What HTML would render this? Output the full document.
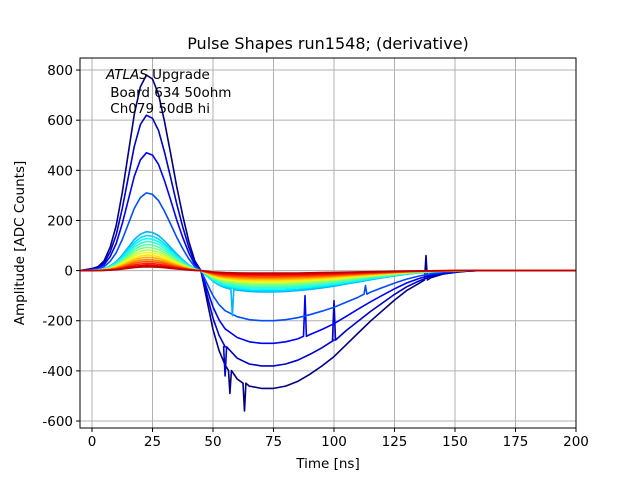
<!DOCTYPE html>
<html><head><meta charset="utf-8"><style>
body{margin:0;background:#fff;}
svg text{font-family:"DejaVu Sans","Liberation Sans",sans-serif;}
</style></head><body>
<svg width="640" height="480" viewBox="0 0 640 480">
<rect width="640" height="480" fill="#fff"/>
<g id="grid"></g>
<g id="series"></g>
<rect x="80" y="58" width="496" height="370" fill="none" stroke="#000" stroke-width="1"/>
<g id="ticks"></g>
<text x="328" y="49" text-anchor="middle" font-size="16">Pulse Shapes run1548; (derivative)</text>
<text x="328" y="468" text-anchor="middle" font-size="13.5">Time [ns]</text>
<text x="24" y="243" text-anchor="middle" font-size="13.5" transform="rotate(-90 24 243)">Amplitude [ADC Counts]</text>
<g font-size="13.5">
<text x="106" y="79"><tspan font-style="italic">ATLAS</tspan> Upgrade</text>
<text x="106" y="97">&#160;Board 634 50ohm</text>
<text x="106" y="113">&#160;Ch079 50dB hi</text>
</g>
</svg>
<script>
const times=[-5,0,2.5,5,7.5,10,12.5,15,17.5,20,22.5,25,27.5,30,32.5,35,37.5,40,42.5,45,47.5,50,52.5,55,60,65,70,75,80,85,90,95,100,105,110,115,120,125,130,135,140,145,150,155,160,170,180,190,200];
const posShape=[0,0.01,0.02,0.05,0.12,0.23,0.4,0.6,0.8,0.94,1.0,0.98,0.9,0.76,0.6,0.43,0.28,0.15,0.05,0,0,0,0,0,0,0,0,0,0,0,0,0,0,0,0,0,0,0,0,0,0,0,0,0,0,0,0,0,0];
const negShape=[0,0,0,0,0,0,0,0,0,0,0,0,0,0,0,0,0,0,0,0,-0.25,-0.5,-0.68,-0.8,-0.92,-0.98,-1,-1,-0.98,-0.94,-0.88,-0.81,-0.73,-0.63,-0.53,-0.43,-0.34,-0.25,-0.17,-0.11,-0.06,-0.03,-0.015,-0.005,0,0,0,0,0];
const peaks=[780,620,470,310,155,140,128,116,104,93,82,72,62,53,44,36,28,21,15];
const troughs=[-470,-380,-290,-200,-85,-80,-74,-68,-62,-56,-50,-45,-40,-35,-30,-25,-20,-15,-10];
const colorPos=[0,0.07,0.12,0.2,0.3,0.34,0.38,0.42,0.46,0.5,0.55,0.6,0.65,0.7,0.75,0.8,0.85,0.9,0.94];
const spikeSeries=[0,0,1,2,1,3,0,4];
const spikeTimes=[63,57,55,88,100,113,138,58];
const spikeValues=[-560,-490,-420,-100,-120,-60,60,-180];
const xTicks=[0,25,50,75,100,125,150,175,200];
const yTicks=[-600,-400,-200,0,200,400,600,800];
const NS='http://www.w3.org/2000/svg';
const X=v=>92+v*2.42, Y=v=>270.6-v*0.2507;
function jet(v){const c=x=>Math.round(255*Math.max(0,Math.min(1,x)));
 return `rgb(${c(1.5-Math.abs(4*v-3))},${c(1.5-Math.abs(4*v-2))},${c(1.5-Math.abs(4*v-1))})`;}
const grid=document.getElementById('grid'),ticks=document.getElementById('ticks'),ser=document.getElementById('series');
function mk(tag,attrs,parent){const e=document.createElementNS(NS,tag);for(const k in attrs)e.setAttribute(k,attrs[k]);parent.appendChild(e);return e;}
xTicks.forEach(t=>{
 const g=mk('line',{x1:X(t),x2:X(t),y1:58,y2:428,stroke:'#b0b0b0','stroke-width':1},grid);
 
 
 mk('line',{x1:X(t),x2:X(t),y1:428,y2:432,stroke:'#000'},ticks);
 const tx=mk('text',{x:X(t),y:446,'text-anchor':'middle','font-size':13.5},ticks);tx.textContent=t;
 
 
});
yTicks.forEach(t=>{
 const g=mk('line',{x1:80,x2:576,y1:Y(t),y2:Y(t),stroke:'#b0b0b0','stroke-width':1},grid);
 
 
 mk('line',{x1:76,x2:80,y1:Y(t),y2:Y(t),stroke:'#000'},ticks);
 const tx=mk('text',{x:73,y:Y(t)+5,'text-anchor':'end','font-size':13.5},ticks);tx.textContent=t;
 
 
});
peaks.forEach((p,i)=>{
 const pts=times.map((t,j)=>[t,p*posShape[j]-troughs[i]*negShape[j]]);
 spikeSeries.forEach((s,k)=>{if(s===i){
   const t=spikeTimes[k];let j=pts.findIndex(q=>q[0]>t);
   const prev=pts[j-1],next=pts[j];const f=(t-prev[0])/(next[0]-prev[0]);
   const base=prev[1]+(next[1]-prev[1])*f;
   pts.splice(j,0,[t-0.6,base],[t,spikeValues[k]],[t+0.6,base]);}});
 const str=pts.map(q=>X(q[0]).toFixed(1)+','+Y(q[1]).toFixed(1)).join(' ');
 const pl=mk('polyline',{points:str,fill:'none',stroke:jet(colorPos[i]),'stroke-width':1.6,'stroke-linejoin':'round'},ser);
 
 
});
</script>
</body></html>
